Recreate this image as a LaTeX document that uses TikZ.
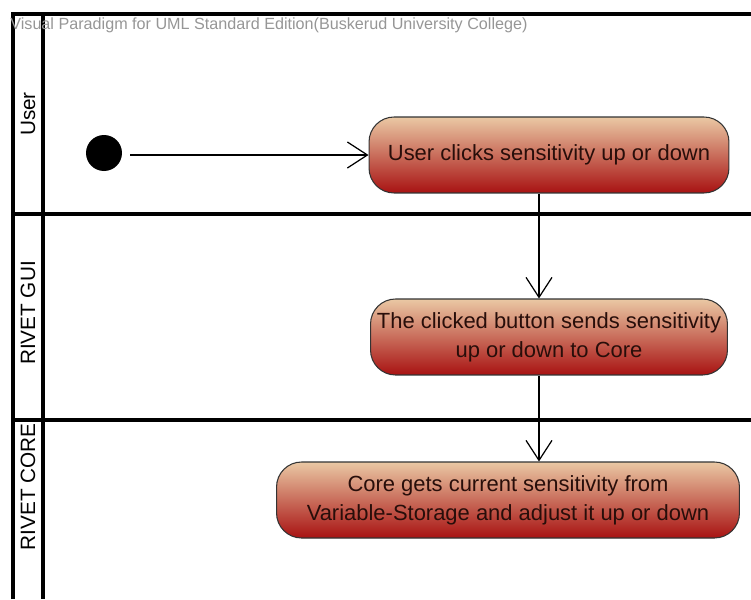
\documentclass[tikz,border=0pt]{standalone}
\usepackage{fontspec}
\setmainfont{Liberation Sans}
\usetikzlibrary{arrows.meta}

\definecolor{acttop}{RGB}{234,200,164}
\definecolor{actbot}{RGB}{168,18,18}
\definecolor{acttext}{RGB}{40,14,10}
\definecolor{watermark}{RGB}{150,150,150}

\tikzset{
    lane/.style={line width=2pt, black},
    action/.style={draw=black!80, line width=0.6pt, rounded corners=0.5cm,
        top color=acttop, bottom color=actbot, text=acttext,
        minimum height=1.52cm, align=center, inner sep=2pt,
        font=\fontsize{12.5}{16.5}\selectfont},
    flow/.style={line width=0.7pt, -{Straight Barb[length=0.4cm, width=0.52cm, line width=0.7pt]}},
}

\begin{document}
\begin{tikzpicture}[x=0.02cm, y=-0.02cm]
    \useasboundingbox (0,0) rectangle (751,599);
    % swimlane frame
    \draw[lane] (13,599) -- (13,14) -- (751,14);
    \draw[lane] (43,14) -- (43,599);
    \draw[lane] (13,214) -- (751,214);
    \draw[lane] (13,420) -- (751,420);
    \node[anchor=west, inner sep=0pt, text=watermark, font=\fontsize{9.2}{10}\selectfont]
        (wm) at (10,25) {Visual Paradigm for UML Standard Edition(Buskerud University College)};
    % lane titles
    \foreach \y/\t/\n in {114/User/user, 313/RIVET GUI/gui, 487/RIVET CORE/core}
        \node[rotate=90, font=\fontsize{11.8}{14}\selectfont] (lane-\n) at (28,\y) {\t};
    % activities
    \node[circle, fill=black, minimum size=0.72cm, inner sep=0pt] (start) at (104,153) {};
    \node[action, minimum width=7.2cm] (click) at (549,155) {User clicks sensitivity up or down};
    \node[action, minimum width=7.14cm] (send) at (549,337)
        {The clicked button sends sensitivity\\up or down to Core};
    \node[action, minimum width=9.26cm] (adjust) at (508,500)
        {Core gets current sensitivity from\\Variable-Storage and adjust it up or down};
    \coordinate (axis) at (539,0);
    % control flow
    \draw[flow] ([xshift=0.16cm]start.east |- click.west) -- (click.west);
    \draw[flow] (click.south -| axis) -- (send.north -| axis);
    \draw[flow] (send.south -| axis) -- (adjust.north -| axis);
\end{tikzpicture}
\end{document}
